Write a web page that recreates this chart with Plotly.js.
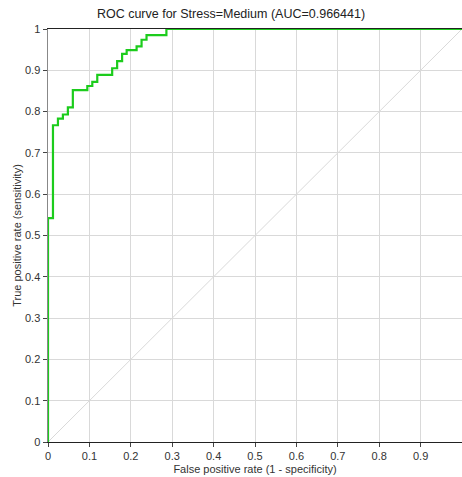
<!DOCTYPE html>
<html><head><meta charset="utf-8">
<script src="https://cdn.plot.ly/plotly-3.0.1.min.js"></script>
<style>html,body{margin:0;padding:0;background:#fff}#c{width:462px;height:477px}</style>
</head><body><div id="c"></div>
<script>
const fpr = [0, 0, 0.012, 0.024, 0.036, 0.048, 0.060, 0.095, 0.107, 0.119, 0.155, 0.167, 0.179, 0.190, 0.214, 0.226, 0.238, 0.286, 1];
const tpr = [0, 0.542, 0.767, 0.783, 0.793, 0.810, 0.852, 0.862, 0.872, 0.889, 0.905, 0.922, 0.940, 0.949, 0.958, 0.974, 0.985, 1, 1];
const diagX = [0, 1];
const diagY = [0, 1];
const tickVals = [0,0.1,0.2,0.3,0.4,0.5,0.6,0.7,0.8,0.9,1];
const tickText = ['0','0.1','0.2','0.3','0.4','0.5','0.6','0.7','0.8','0.9','1'];

const traces = [
  {x: diagX, y: diagY, mode:'lines', line:{color:'#d9d9d9', width:1}, hoverinfo:'skip', showlegend:false},
  {x: fpr, y: tpr, mode:'lines', line:{color:'#1ccc1c', width:2.2, shape:'hv'}, showlegend:false}
];
const axFont = {family:'Liberation Sans, Arial, sans-serif', size:11, color:'#333'};
const layout = {
  width:462, height:477,
  margin:{l:48, r:0, t:29, b:35},
  paper_bgcolor:'#fff', plot_bgcolor:'#fff',
  title:{text:'ROC curve for Stress=Medium (AUC=0.966441)', font:{family:'Liberation Sans, Arial, sans-serif', size:12.5, color:'#222'}, x:0.5, xanchor:'center', y:0.972, yanchor:'middle'},
  xaxis:{range:[0,1], tickvals:tickVals, ticktext:tickText, showgrid:true, gridcolor:'#d9d9d9', gridwidth:1,
    zeroline:false, showline:true, linecolor:'#222', linewidth:1, mirror:true, ticks:'outside', ticklen:4, tickcolor:'#444',
    tickfont:axFont, title:{text:'False positive rate (1 - specificity)', font:axFont, standoff:4}},
  yaxis:{range:[0,1], tickvals:tickVals, ticktext:tickText, showgrid:true, gridcolor:'#d9d9d9', gridwidth:1,
    zeroline:false, showline:true, linecolor:'#888', linewidth:1.5, ticks:'outside', ticklen:4, tickcolor:'#444',
    tickfont:axFont, title:{text:'True positive rate (sensitivity)', font:axFont, standoff:1}}
};
Plotly.newPlot('c', traces, layout, {displayModeBar:false, staticPlot:true});
</script></body></html>
